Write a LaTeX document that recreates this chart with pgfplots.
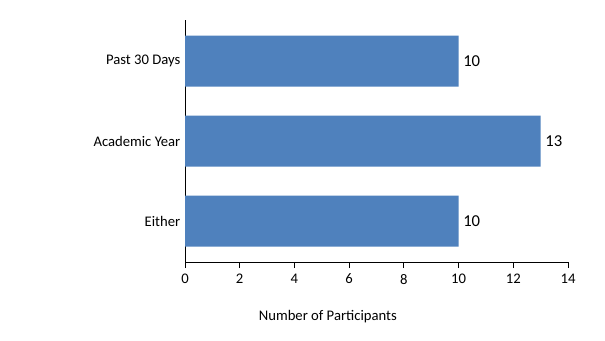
\documentclass[border=0pt]{standalone}
\usepackage{pgfplots}
\pgfplotsset{compat=1.18}
\usepackage{fontspec}
\setmainfont{Carlito}
\definecolor{barblue}{HTML}{4F81BD}
\begin{document}
\begin{tikzpicture}
\useasboundingbox (-138.75pt,-58.5pt) rectangle (315pt,196.5pt);
\begin{axis}[
  at={(0,0)}, anchor=south west,
  scale only axis,
  width=287.25pt, height=181.5pt,
  xbar, bar width=38.25pt,
  xmin=0, xmax=14, xtick={0,2,...,14},
  ymin=-0.5125, ymax=2.5125,
  ytick={0,1,2}, yticklabels={Either,Academic Year,Past 30 Days},
  axis x line*=bottom, axis y line*=left,
  x axis line style={-}, y axis line style={-},
  xtick style={black, line width=0.6pt},
  major tick length=4.5pt,
  tick align=outside,
  ytick style={draw=none},
  /pgf/number format/assume math mode=true,
  ticklabel style={font=\fontsize{11pt}{13pt}\selectfont, black},
  yticklabel style={xshift=4.5pt},
  xticklabel style={yshift=-1pt},
  xlabel={Number of Participants},
  xlabel style={font=\fontsize{11pt}{13pt}\selectfont, at={(axis description cs:0.373,0)}, anchor=center, yshift=-41.25pt},
  axis line style={black, line width=0.6pt},
  nodes near coords,
  nodes near coords style={anchor=west, xshift=0pt, font=\fontsize{12.5pt}{14pt}\selectfont, black},
  every node near coord/.append style={/pgf/number format/assume math mode=true},
]
\addplot[fill=barblue, draw=none] coordinates {(10,0) (13,1) (10,2)};
\end{axis}
\end{tikzpicture}
\end{document}
